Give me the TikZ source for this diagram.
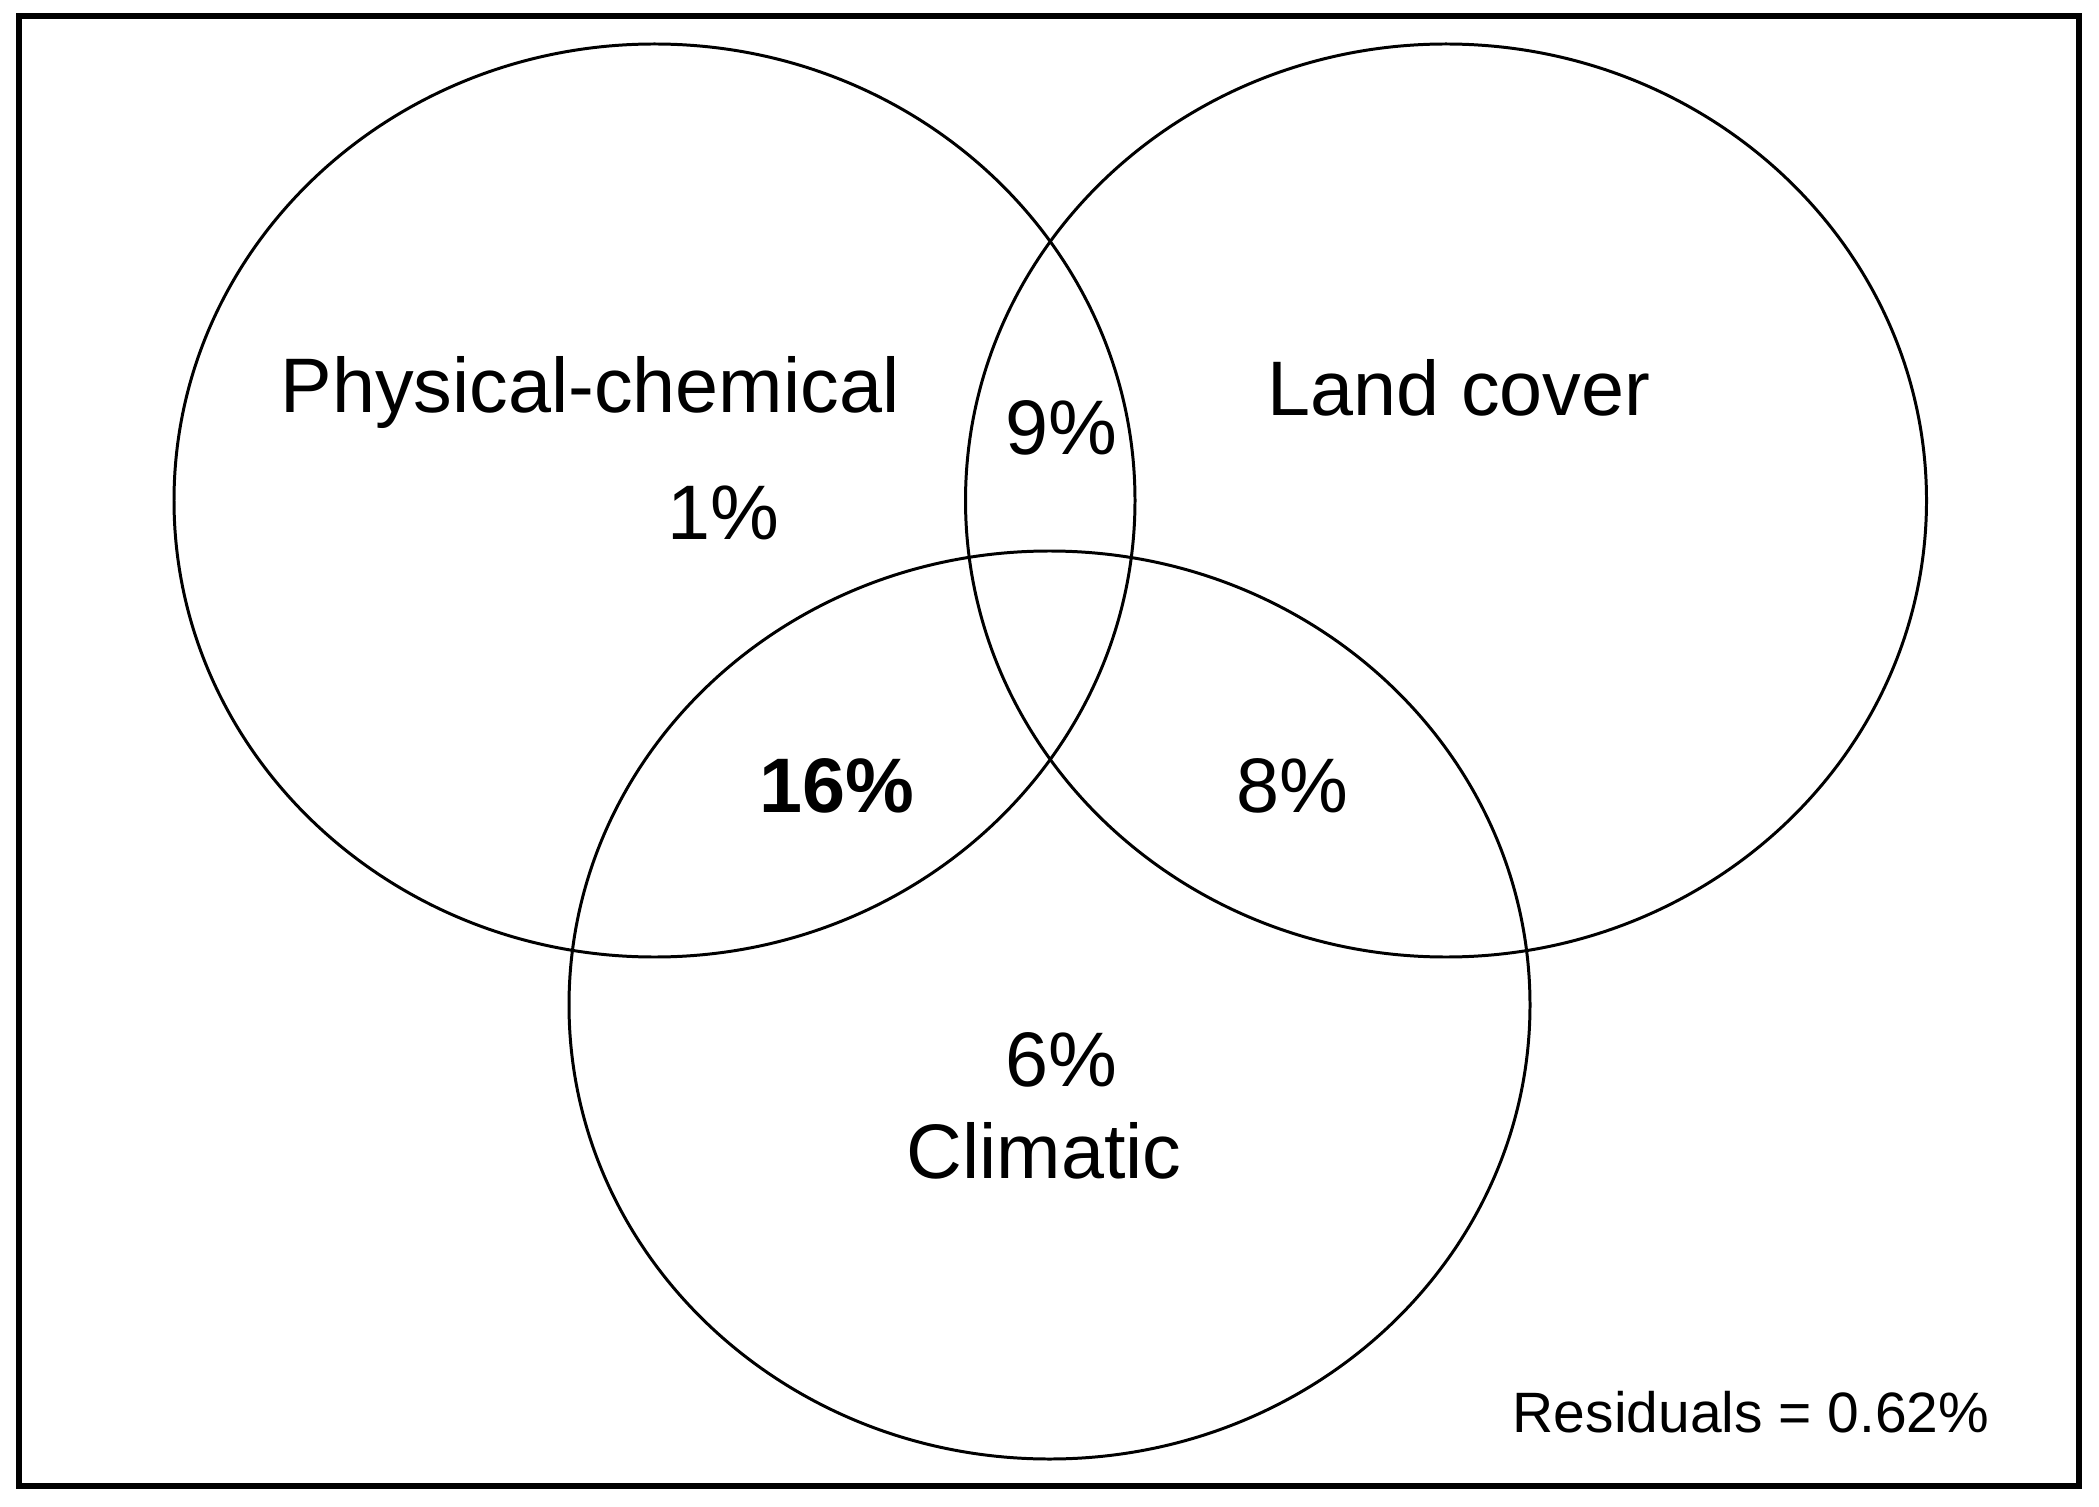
\documentclass[tikz,border=0pt]{standalone}
\usepackage{fontspec}
\setmainfont{Liberation Sans}
\usetikzlibrary{positioning}

\tikzset{
    setline/.style={black,line width=0.85pt},
    setlabel/.style={font=\fontsize{22}{26}\selectfont,inner sep=0pt},
    share/.style={font=\fontsize{22}{26}\selectfont,inner sep=0pt}
}

\begin{document}
\begin{tikzpicture}
        \useasboundingbox (0,0) rectangle (20.99,15.06);
        % Outer frame
        \draw[black,line width=1.5pt] (0.19,0.20) rectangle (20.79,14.90);

        % The three sets
        \draw[setline] (6.545,10.055) ellipse (4.805 and 4.565); % physical-chemical
        \draw[setline] (14.46,10.055) ellipse (4.805 and 4.565); % land cover
        \draw[setline] (10.495,5.01) ellipse (4.805 and 4.54);   % climatic

        % Set names
        \node[setlabel] (phys) at (5.90,11.13) {Physical-chemical};
        \node[setlabel] (land) at (14.59,11.18) {Land cover};
        \node[setlabel] (clim) at (10.44,3.55) {Climatic};

        % Shares
        \node[share] (pl) at (10.615,10.78) {9\%};
        \node[share] (p) at (7.23,9.93) {1\%};
        \node[share,font=\fontsize{22}{26}\selectfont\bfseries] (pc) at (8.37,7.20) {16\%};
        \node[share] (lc) at (12.92,7.20) {8\%};
        \node[share] (c) at (10.615,4.46) {6\%};

        % Residuals
        \node[inner sep=0pt,font=\fontsize{16.2}{19}\selectfont] (res) at (17.51,0.94) {Residuals = 0.62\%};
\end{tikzpicture}
\end{document}
